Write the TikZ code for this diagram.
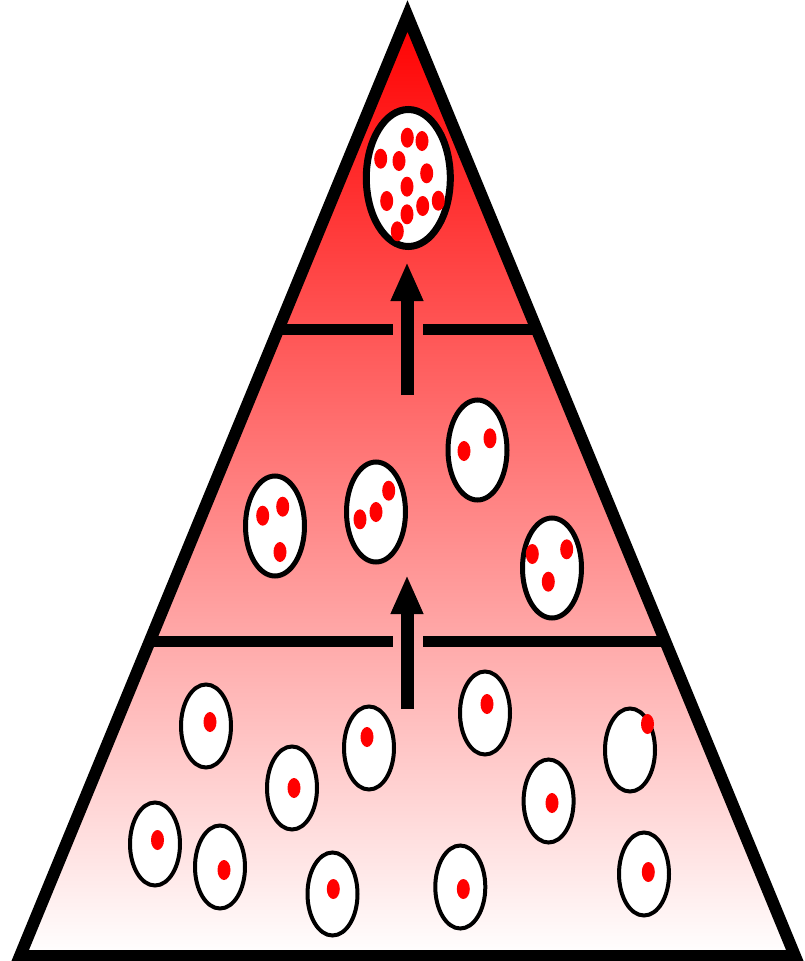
\documentclass[tikz,border=0pt]{standalone}
\usetikzlibrary{arrows.meta,shapes.geometric}
\definecolor{dotred}{RGB}{255,0,0}
\definecolor{topred}{RGB}{255,0,0}
\tikzset{
  pyr/.style={line width=12pt, line join=miter},
  divider/.style={line width=11pt},
  cellS/.style={ellipse, draw=black, fill=white, line width=4pt, inner sep=0pt, minimum width=50pt, minimum height=83pt},
  cellM/.style={ellipse, draw=black, fill=white, line width=5pt, inner sep=0pt, minimum width=59pt, minimum height=100pt},
  cellL/.style={ellipse, draw=black, fill=white, line width=7pt, inner sep=0pt, minimum width=84pt, minimum height=137pt},
  bigarrow/.style={line width=13pt, -{Triangle[length=39pt,width=30pt]}},
}
\newcommand{\rdot}[2]{\fill[dotred] (#1,#2) ellipse [x radius=6.5pt, y radius=10pt];}
\begin{document}
\begin{tikzpicture}[x=1pt,y=-1pt]
\useasboundingbox (0,0) rectangle (805,961);
% triangle corners
\coordinate (apex) at (407.5,16);
\coordinate (bl) at (20,956);
\coordinate (br) at (795,956);
% shaded body
\shade[top color=topred, bottom color=white] (apex) -- (bl) -- (br) -- cycle;
% dividers clipped to triangle
\begin{scope}
  \clip (apex) -- (bl) -- (br) -- cycle;
  \coordinate (u1) at (0,329);
  \coordinate (u2) at (392.5,329);
  \coordinate (u3) at (423,329);
  \coordinate (u4) at (805,329);
  \coordinate (l1) at (0,641);
  \coordinate (l2) at (392.5,641);
  \coordinate (l3) at (423,641);
  \coordinate (l4) at (805,641);
  \draw[divider] (u1) -- (u2);
  \draw[divider] (u3) -- (u4);
  \draw[divider] (l1) -- (l2);
  \draw[divider] (l3) -- (l4);
\end{scope}
\draw[pyr] (apex) -- (bl) -- (br) -- cycle;
% arrows
\coordinate (a1s) at (407,395);
\coordinate (a1e) at (407,262);
\coordinate (a2s) at (407,709);
\coordinate (a2e) at (407,575);
\draw[bigarrow] (a1s) -- (a1e);
\draw[bigarrow] (a2s) -- (a2e);
% top cell
\node[cellL] (top) at (408.3,178) {};
\rdot{407.3}{137.7}\rdot{422}{141}\rdot{380.7}{158.7}\rdot{399}{161}
\rdot{426.7}{173.3}\rdot{407}{186.7}\rdot{386.7}{201}\rdot{438.3}{200.7}
\rdot{422.7}{206}\rdot{407}{214.3}\rdot{397.3}{231.3}
% middle cells
\node[cellM] (m1) at (275,526) {};
\rdot{262.7}{515.7}\rdot{282.7}{506.7}\rdot{280}{552}
\node[cellM] (m2) at (376,512) {};
\rdot{360}{519.3}\rdot{376}{512}\rdot{388.7}{490.7}
\node[cellM] (m3) at (477.5,450) {};
\rdot{464}{451}\rdot{490}{438.3}
\node[cellM] (m4) at (552,568) {};
\rdot{532.3}{554}\rdot{566.7}{549.3}\rdot{548.3}{581.7}
% bottom cells
\node[cellS] (b1) at (206,726) {};  \rdot{210}{722}
\node[cellS] (b2) at (292,788) {};  \rdot{294}{788}
\node[cellS] (b3) at (369,748) {};  \rdot{367}{737}
\node[cellS] (b4) at (485,713) {};  \rdot{487}{704}
\node[cellS] (b5) at (630,750) {};  \rdot{647.5}{724}
\node[cellS] (b6) at (548.6,801) {}; \rdot{552}{803}
\node[cellS] (b7) at (155,844) {};  \rdot{157.5}{840}
\node[cellS] (b8) at (220,867) {};  \rdot{224}{870}
\node[cellS] (b9) at (332.5,894) {}; \rdot{333.3}{889}
\node[cellS] (b10) at (460.3,887) {}; \rdot{463.3}{889}
\node[cellS] (b11) at (644,874) {}; \rdot{648.3}{872}
\end{tikzpicture}
\end{document}
